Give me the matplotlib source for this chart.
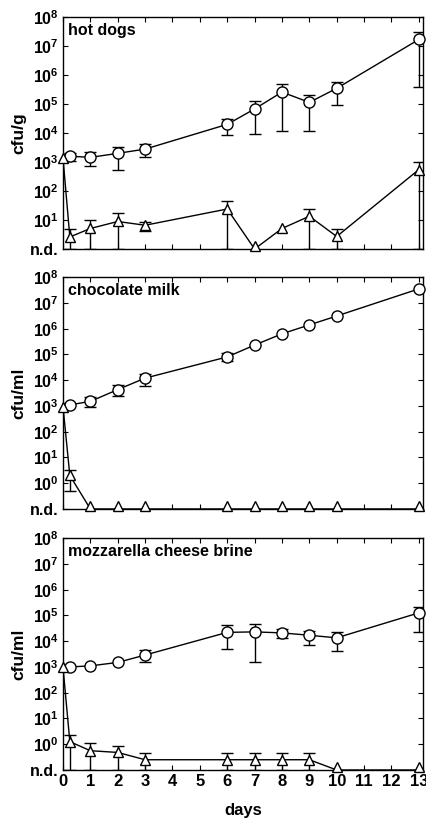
import numpy as np
import matplotlib
matplotlib.use('Agg')
import matplotlib.pyplot as plt
from matplotlib.transforms import offset_copy

plt.rcParams['font.family'] = ['Liberation Sans', 'DejaVu Sans']
plt.rcParams['font.weight'] = 'bold'
plt.rcParams['mathtext.fontset'] = 'custom'
plt.rcParams['mathtext.rm'] = 'Liberation Sans:bold'
plt.rcParams['mathtext.it'] = 'Liberation Sans:bold'
plt.rcParams['mathtext.bf'] = 'Liberation Sans:bold'
plt.rcParams['mathtext.default'] = 'rm'

# ---------------- data ----------------
days_circ = [0.25, 1, 2, 3, 6, 7, 8, 9, 10, 13]
days_tri = [0, 0.25, 1, 2, 3, 6, 7, 8, 9, 10, 13]

# hot dogs (n.d. = 1)
hd_circ = [1.6e3, 1.45e3, 2.0e3, 2.8e3, 2.0e4, 6.8e4, 2.6e5, 1.15e5, 3.5e5, 1.7e7]
hd_circ_hi = [2.0e3, 2.2e3, 3.4e3, 4.1e3, 3.0e4, 1.26e5, 5.1e5, 2.1e5, 6.0e5, 3.2e7]
hd_circ_lo = [1.05e3, 7.4e2, 5.5e2, 1.5e3, 8.9e3, 9.3e3, 1.2e4, 1.2e4, 9.3e4, 4.0e5]
hd_tri = [1.4e3, 2.6, 5.1, 8.9, 6.6, 24, 1.0, 5.1, 13.5, 2.7, 550]
hd_tri_hi = [1.4e3, 4.9, 9.8, 17, 8.5, 46, 1.0, 5.1, 24, 4.8, 980]
hd_tri_lo = [1.4e3, 1.0, 1.0, 1.0, 4.2, 1.0, 1.0, 5.1, 1.0, 1.0, 1.0]

# chocolate milk (n.d. = 0.1)
cm_circ = [1.1e3, 1.5e3, 4.3e3, 1.2e4, 8.0e4, 2.3e5, 6.3e5, 1.4e6, 3.1e6, 3.5e7]
cm_circ_hi = [1.1e3, 2.3e3, 6.6e3, 1.8e4, 1.1e5, 2.3e5, 6.3e5, 1.4e6, 3.1e6, 3.5e7]
cm_circ_lo = [1.1e3, 9.5e2, 2.5e3, 6.0e3, 5.4e4, 2.3e5, 6.3e5, 1.4e6, 3.1e6, 3.5e7]
cm_tri = [950, 2.0, 0.1, 0.1, 0.1, 0.1, 0.1, 0.1, 0.1, 0.1, 0.1]
cm_tri_hi = [950, 3.2, 0.1, 0.1, 0.1, 0.1, 0.1, 0.1, 0.1, 0.1, 0.1]
cm_tri_lo = [950, 0.52, 0.1, 0.1, 0.1, 0.1, 0.1, 0.1, 0.1, 0.1, 0.1]

# mozzarella cheese brine (n.d. = 0.1)
mz_circ = [1.0e3, 1.1e3, 1.5e3, 2.9e3, 2.2e4, 2.3e4, 2.1e4, 1.7e4, 1.35e4, 1.26e5]
mz_circ_hi = [1.0e3, 1.1e3, 1.5e3, 4.5e3, 4.1e4, 4.5e4, 3.1e4, 2.5e4, 2.3e4, 2.2e5]
mz_circ_lo = [1.0e3, 1.1e3, 1.5e3, 1.5e3, 4.8e3, 1.5e3, 1.35e4, 6.9e3, 4.0e3, 2.2e4]
mz_tri = [1.0e3, 1.26, 0.56, 0.48, 0.25, 0.25, 0.25, 0.25, 0.25, 0.1, 0.1]
mz_tri_hi = [1.0e3, 2.2, 1.15, 0.89, 0.45, 0.45, 0.45, 0.45, 0.45, 0.1, 0.1]
mz_tri_lo = [1.0e3, 0.1, 0.1, 0.1, 0.1, 0.1, 0.1, 0.1, 0.1, 0.1, 0.1]

panels = [
    ('hot dogs', 'cfu/g', 1.0, hd_circ, hd_circ_lo, hd_circ_hi, hd_tri, hd_tri_lo, hd_tri_hi),
    ('chocolate milk', 'cfu/ml', 0.1, cm_circ, cm_circ_lo, cm_circ_hi, cm_tri, cm_tri_lo, cm_tri_hi),
    ('mozzarella cheese brine', 'cfu/ml', 0.1, mz_circ, mz_circ_lo, mz_circ_hi, mz_tri, mz_tri_lo, mz_tri_hi),
]

# ---------------- figure ----------------
fig = plt.figure(figsize=(4.27, 8.18), dpi=100)
ax_pos = [[0.1475, 0.6956, 0.843, 0.2834],
          [0.1475, 0.3778, 0.843, 0.2834],
          [0.1475, 0.0587, 0.843, 0.2834]]


def draw_series(ax, x, y, lo, hi, marker, ms, z, nd):
    x = np.array(x, float); y = np.array(y, float)
    lo = np.array(lo, float); hi = np.array(hi, float)
    m = (hi > y) | (lo < y)
    ax.errorbar(x[m], y[m], yerr=[y[m] - lo[m], hi[m] - y[m]], fmt='none',
                ecolor='black', elinewidth=1.0, capsize=4.5, capthick=1.0, zorder=z)
    ax.plot(x, y, '-', color='black', lw=1.0, zorder=z + 0.5)
    # markers at n.d. sit on the axis line
    at_nd = y <= nd
    ax.plot(x[~at_nd], y[~at_nd], marker, ms=ms, mfc='white', mec='black', mew=1.0,
            ls='none', zorder=z + 1, clip_on=False)
    if at_nd.any():
        tr = offset_copy(ax.transData, fig=fig, x=0, y=ms * 0.3, units='points')
        ax.plot(x[at_nd], y[at_nd], marker, ms=ms, mfc='white', mec='black', mew=1.0,
                ls='none', zorder=z + 1, clip_on=False, transform=tr)


for i, (title, ylab, nd, c, clo, chi, t, tlo, thi) in enumerate(panels):
    ax = fig.add_axes(ax_pos[i])
    ax.set_yscale('log')
    ax.set_xlim(0, 13.15)
    ax.set_ylim(nd, 1e8)

    draw_series(ax, days_circ, c, clo, chi, 'o', 8, 2, nd)
    draw_series(ax, days_tri, t, tlo, thi, '^', 7.5, 4, nd)

    exps = list(range(int(round(np.log10(nd))), 9))
    ax.set_yticks([10.0 ** e for e in exps])
    ax.set_yticklabels(['n.d.'] + [r'$10^{%d}$' % e for e in exps[1:]], fontsize=11.5)
    ax.minorticks_off()
    ax.set_xticks(range(14))
    if i == 2:
        ax.set_xticklabels([str(d) for d in range(14)], fontsize=12)
        ax.set_xlabel('days', fontsize=12, fontweight='bold', labelpad=10)
    else:
        ax.set_xticklabels([])
    ax.tick_params(direction='in', top=True, right=True, length=3.5, width=0.8, pad=3)
    ax.tick_params(axis='y', pad=3)
    for s in ax.spines.values():
        s.set_linewidth(1.0)
    ax.set_ylabel(ylab, fontsize=12.5, fontweight='bold', labelpad=3)
    ax.text(0.013, 0.975, title, transform=ax.transAxes, ha='left', va='top',
            fontsize=11.5, fontweight='bold')

fig.savefig('out.png', dpi=100)
